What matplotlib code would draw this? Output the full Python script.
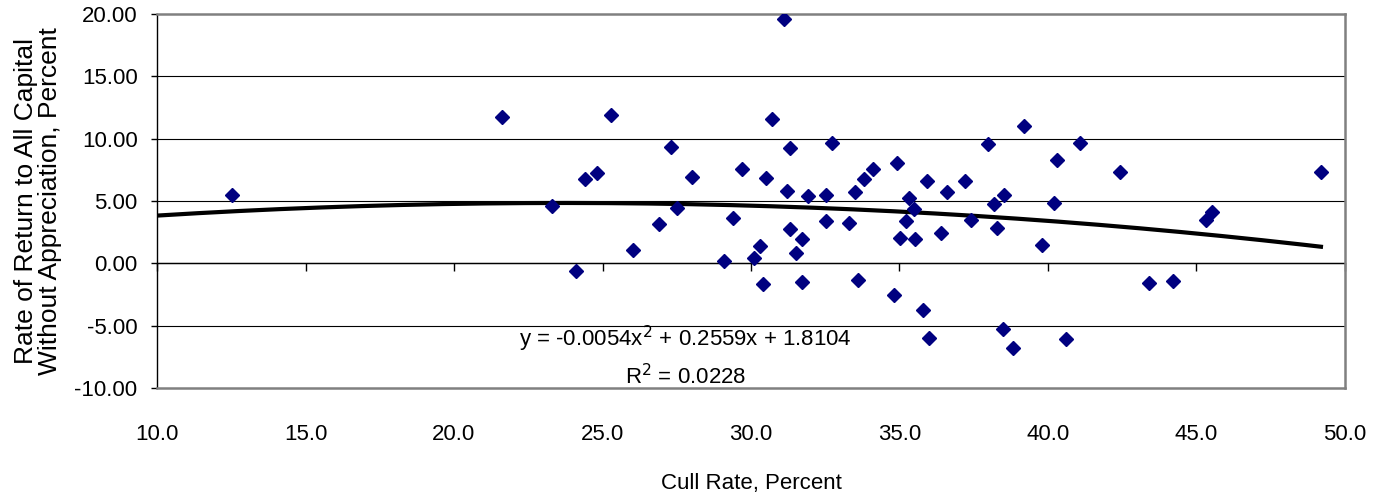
import matplotlib

matplotlib.use("Agg")
import matplotlib.pyplot as plt
import numpy as np

# Cull rate (%) vs rate of return to all capital without appreciation (%)
cull_rate = [
    12.52, 21.60, 23.31, 24.11, 24.41, 24.80, 25.29, 26.02, 26.90, 27.31,
    27.50, 28.01, 29.10, 29.40, 29.71, 30.10, 30.31, 30.40, 30.50, 30.71,
    31.12, 31.21, 31.30, 31.30, 31.52, 31.71, 31.71, 31.91, 32.51, 32.51,
    32.72, 33.31, 33.50, 33.59, 33.80, 34.11, 34.80, 34.92, 35.02, 35.22,
    35.31, 35.50, 35.51, 35.80, 35.92, 36.00, 36.41, 36.61, 37.22, 37.41,
    37.99, 38.19, 38.29, 38.49, 38.51, 38.81, 39.20, 39.81, 40.20, 40.31,
    40.61, 41.09, 42.41, 43.41, 44.22, 45.31, 45.51, 49.19,
]
return_pct = [
    5.45, 11.74, 4.60, -0.62, 6.79, 7.27, 11.92, 1.07, 3.13, 9.33,
    4.46, 6.95, 0.19, 3.66, 7.59, 0.46, 1.39, -1.63, 6.82, 11.57,
    19.62, 5.80, 9.28, 2.73, 0.86, 1.98, -1.47, 5.40, 5.51, 3.39,
    9.68, 3.21, 5.72, -1.34, 6.79, 7.59, -2.51, 8.07, 2.06, 3.39,
    5.24, 4.33, 1.98, -3.74, 6.60, -5.99, 2.46, 5.75, 6.60, 3.47,
    9.54, 4.79, 2.81, -5.24, 5.45, -6.76, 11.01, 1.44, 4.87, 8.32,
    -6.09, 9.68, 7.32, -1.60, -1.39, 3.45, 4.15, 7.35,
]

# polynomial trendline as printed on the chart
trend_coef = [-0.0054, 0.2559, 1.8104]
r_squared = 0.0228

x_ticks = [10.0, 15.0, 20.0, 25.0, 30.0, 35.0, 40.0, 45.0, 50.0]
y_ticks = [-10.0, -5.0, 0.0, 5.0, 10.0, 15.0, 20.0]

plt.rcParams["font.family"] = ["Liberation Sans", "DejaVu Sans"]
plt.rcParams["font.size"] = 16

fig = plt.figure(figsize=(13.87, 4.94), dpi=100)
ax = fig.add_axes([157 / 1387, 1 - 388 / 494, (1345 - 157) / 1387, (388 - 14) / 494])

ax.set_xlim(10, 50)
ax.set_ylim(-10, 20)

for y in y_ticks[1:-1]:
    ax.axhline(y, color="black", linewidth=0.8, zorder=1)

trend_x = np.linspace(10, max(cull_rate), 200)
ax.plot(trend_x, np.polyval(trend_coef, trend_x), color="black", linewidth=3, zorder=2)

ax.plot(cull_rate, return_pct, linestyle="none", marker="D", markersize=7.5,
        color="#000080", markeredgecolor="#000080", zorder=3)

# frame
for side in ["top", "right", "bottom"]:
    ax.spines[side].set_color("#808080")
    ax.spines[side].set_linewidth(1.8)
ax.spines["left"].set_color("black")
ax.spines["left"].set_linewidth(1.0)

ax.set_yticks(y_ticks)
ax.set_yticklabels([f"{v:.2f}" for v in y_ticks])
ax.tick_params(axis="y", direction="out", length=4, width=1, pad=10)

ax.set_xticks(x_ticks)
ax.set_xticklabels([f"{v:.1f}" for v in x_ticks])
ax.tick_params(axis="x", length=0, pad=26)

# tick marks sit on the zero line, labels stay at the bottom
zero_axis = ax.secondary_xaxis(1 / 3)
zero_axis.set_xticks(x_ticks)
zero_axis.tick_params(axis="x", direction="out", length=6, width=1, labelbottom=False)
zero_axis.spines["bottom"].set_color("black")
zero_axis.spines["bottom"].set_linewidth(1.0)

ax.set_xlabel("Cull Rate, Percent", labelpad=20)
ax.set_ylabel("Rate of Return to All Capital\nWithout Appreciation, Percent",
              fontsize=19, linespacing=1.0, labelpad=9)

ax.text(27.8, -6.1, "y = -0.0054x$^2$ + 0.2559x + 1.8104", ha="center", va="center",
        fontsize=16, zorder=4)
ax.text(27.8, -9.1, f"R$^2$ = {r_squared}", ha="center", va="center", fontsize=16, zorder=4)

fig.savefig("out.png", dpi=100)
